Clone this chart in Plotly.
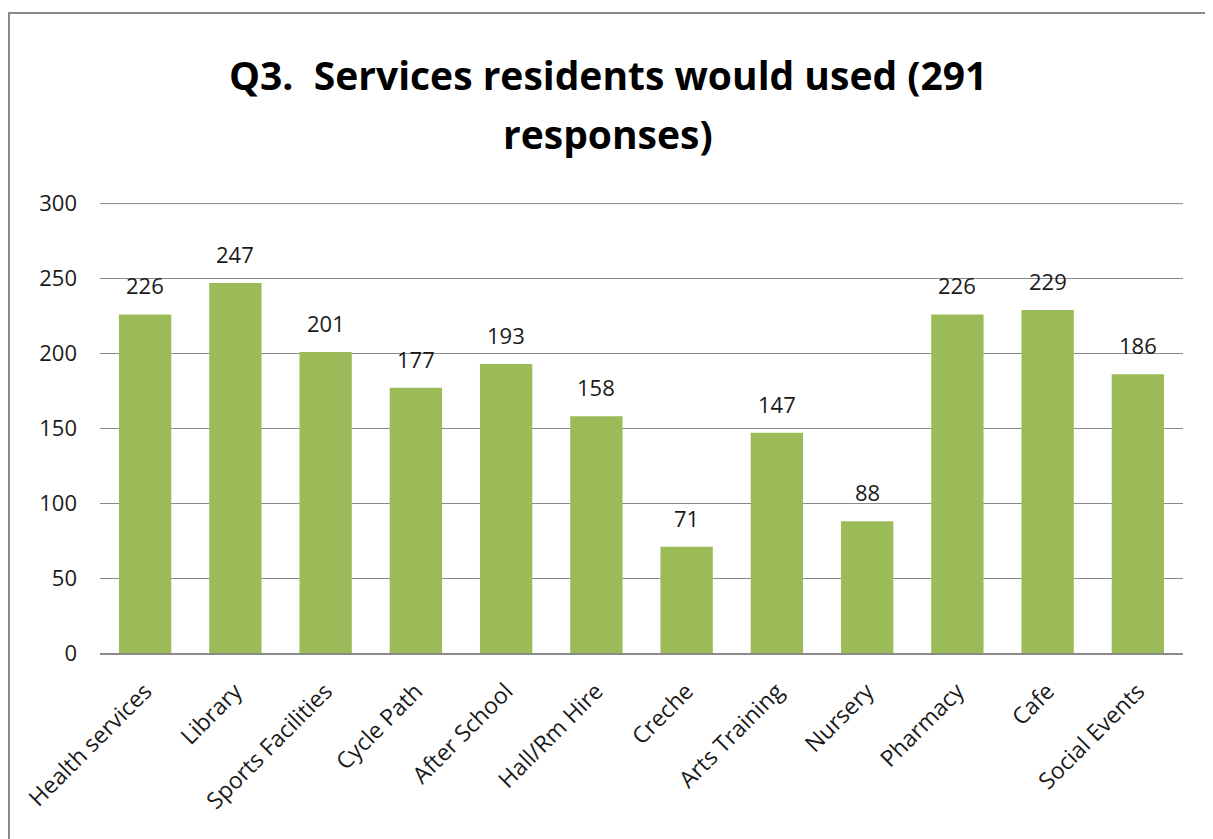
import plotly.graph_objects as go

categories = ["Health services", "Library", "Sports Facilities", "Cycle Path", "After School",
              "Hall/Rm Hire", "Creche", "Arts Training", "Nursery", "Pharmacy", "Cafe", "Social Events"]
values = [226, 247, 201, 177, 193, 158, 71, 147, 88, 226, 229, 186]
y_ticks = [0, 50, 100, 150, 200, 250, 300]
title_line1 = "Q3.  Services residents would used (291"
title_line2 = "responses)"

OFF = 8  # page body margin
W, H = 1213, 839
# target page coordinates of plot area
PL, PR, PT, PB = 100, 1183, 203, 653
L = PL - OFF
T = PT - OFF
R = W - (PR - OFF)
B = H - (PB - OFF)
pw = PR - PL
ph = PB - PT

def px(x):
    return (x - PL) / pw

def py(y):
    return (PB - y) / ph

FONT = "Open Sans"
TXT = "#1a1a1a"
GRID = "#8a8a8a"

fig = go.Figure(go.Bar(
    x=categories, y=values,
    marker=dict(color="#9BBB59", line=dict(width=0)),
    hoverinfo="x+y",
))

annotations = [
    dict(x=c, y=v, xref="x", yref="y", text=str(v), showarrow=False,
         yanchor="middle", yshift=29, font=dict(family=FONT, size=22, color=TXT))
    for c, v in zip(categories, values)
]
annotations += [
    dict(text="<b>" + title_line1 + "</b>", xref="paper", yref="paper", x=px(608), y=py(75),
         xanchor="center", yanchor="middle", showarrow=False,
         font=dict(family=FONT, size=39, color="#000000")),
    dict(text="<b>" + title_line2 + "</b>", xref="paper", yref="paper", x=px(608), y=py(133),
         xanchor="center", yanchor="middle", showarrow=False,
         font=dict(family=FONT, size=39, color="#000000")),
]

fig.update_layout(
    width=W, height=H,
    margin=dict(l=L, r=R, t=T, b=B, autoexpand=False),
    paper_bgcolor="white", plot_bgcolor="white",
    bargap=0.42,
    showlegend=False,
    font=dict(family=FONT, color=TXT),
    xaxis=dict(tickangle=-45, tickfont=dict(family=FONT, size=23, color=TXT),
               showline=True, linecolor=GRID, linewidth=1.5, ticks="", showgrid=False,
               ticklabelstandoff=14),
    yaxis=dict(range=[0, 300.4], tickvals=y_ticks, tickfont=dict(family=FONT, size=22, color=TXT),
               showgrid=True, gridcolor=GRID, gridwidth=1, zeroline=False, showline=False,
               ticks="", ticklen=0, ticklabelstandoff=22),
    annotations=annotations,
    shapes=[
        dict(type="rect", xref="paper", yref="paper", x0=px(9), x1=px(1207), y0=py(870), y1=py(13),
             line=dict(color=GRID, width=2), fillcolor="rgba(0,0,0,0)", layer="below"),
        dict(type="line", xref="paper", yref="y", x0=0, x1=1, y0=y_ticks[-1], y1=y_ticks[-1],
             line=dict(color=GRID, width=1), layer="below"),
    ],
)

fig.write_html("out.html")
